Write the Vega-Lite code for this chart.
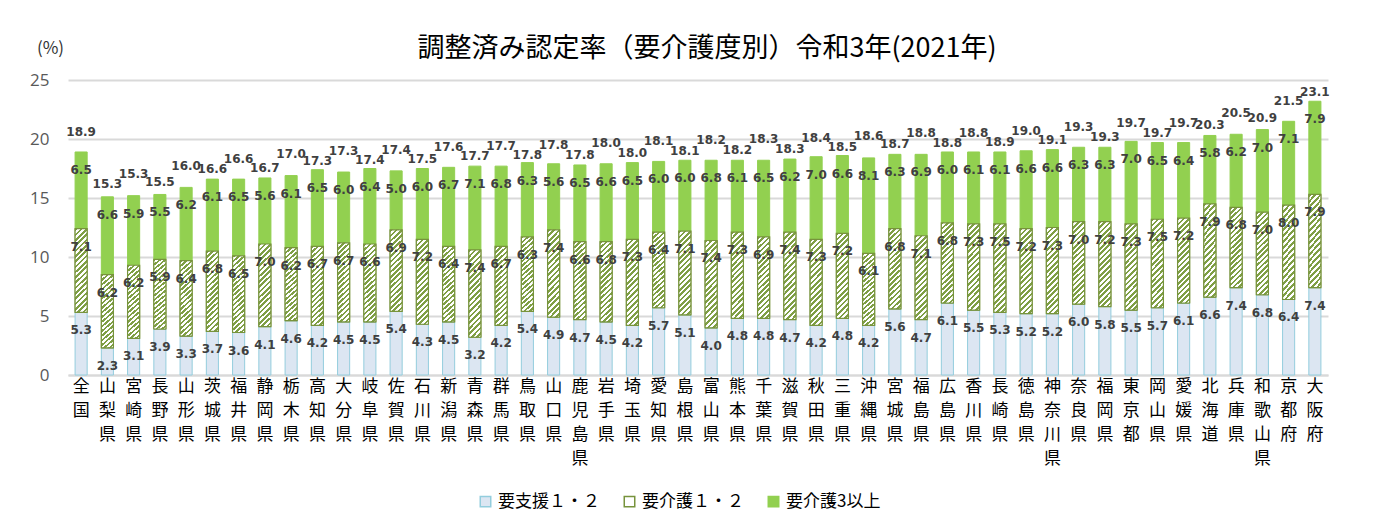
{
  "$schema": "https://vega.github.io/schema/vega-lite/v6.json",
  "autosize": {"type": "none"},
  "padding": {"left": 68, "top": 80, "right": 58, "bottom": 152},
  "width": 1260,
  "height": 295,
  "background": "#ffffff",
  "title": {
    "text": "調整済み認定率（要介護度別）令和3年(2021年)",
    "anchor": "middle",
    "frame": "group",
    "fontSize": 27,
    "fontWeight": "normal",
    "font": "Noto Sans CJK JP",
    "color": "#000000",
    "offset": 16,
    "dx": 9,
    "dy": 40
  },
  "config": {
    "view": {"stroke": null},
    "font": "Noto Sans CJK JP"
  },
  "data": {
    "values": [
      {"pref": "全国", "要支援１・２": 5.3, "要介護１・２": 7.1, "要介護3以上": 6.5, "total": 18.9},
      {"pref": "山梨県", "要支援１・２": 2.3, "要介護１・２": 6.2, "要介護3以上": 6.6, "total": 15.3},
      {"pref": "宮崎県", "要支援１・２": 3.1, "要介護１・２": 6.2, "要介護3以上": 5.9, "total": 15.3},
      {"pref": "長野県", "要支援１・２": 3.9, "要介護１・２": 5.9, "要介護3以上": 5.5, "total": 15.5},
      {"pref": "山形県", "要支援１・２": 3.3, "要介護１・２": 6.4, "要介護3以上": 6.2, "total": 16.0},
      {"pref": "茨城県", "要支援１・２": 3.7, "要介護１・２": 6.8, "要介護3以上": 6.1, "total": 16.6},
      {"pref": "福井県", "要支援１・２": 3.6, "要介護１・２": 6.5, "要介護3以上": 6.5, "total": 16.6},
      {"pref": "静岡県", "要支援１・２": 4.1, "要介護１・２": 7.0, "要介護3以上": 5.6, "total": 16.7},
      {"pref": "栃木県", "要支援１・２": 4.6, "要介護１・２": 6.2, "要介護3以上": 6.1, "total": 17.0},
      {"pref": "高知県", "要支援１・２": 4.2, "要介護１・２": 6.7, "要介護3以上": 6.5, "total": 17.3},
      {"pref": "大分県", "要支援１・２": 4.5, "要介護１・２": 6.7, "要介護3以上": 6.0, "total": 17.3},
      {"pref": "岐阜県", "要支援１・２": 4.5, "要介護１・２": 6.6, "要介護3以上": 6.4, "total": 17.4},
      {"pref": "佐賀県", "要支援１・２": 5.4, "要介護１・２": 6.9, "要介護3以上": 5.0, "total": 17.4},
      {"pref": "石川県", "要支援１・２": 4.3, "要介護１・２": 7.2, "要介護3以上": 6.0, "total": 17.5},
      {"pref": "新潟県", "要支援１・２": 4.5, "要介護１・２": 6.4, "要介護3以上": 6.7, "total": 17.6},
      {"pref": "青森県", "要支援１・２": 3.2, "要介護１・２": 7.4, "要介護3以上": 7.1, "total": 17.7},
      {"pref": "群馬県", "要支援１・２": 4.2, "要介護１・２": 6.7, "要介護3以上": 6.8, "total": 17.7},
      {"pref": "鳥取県", "要支援１・２": 5.4, "要介護１・２": 6.3, "要介護3以上": 6.3, "total": 17.8},
      {"pref": "山口県", "要支援１・２": 4.9, "要介護１・２": 7.4, "要介護3以上": 5.6, "total": 17.8},
      {"pref": "鹿児島県", "要支援１・２": 4.7, "要介護１・２": 6.6, "要介護3以上": 6.5, "total": 17.8},
      {"pref": "岩手県", "要支援１・２": 4.5, "要介護１・２": 6.8, "要介護3以上": 6.6, "total": 18.0},
      {"pref": "埼玉県", "要支援１・２": 4.2, "要介護１・２": 7.3, "要介護3以上": 6.5, "total": 18.0},
      {"pref": "愛知県", "要支援１・２": 5.7, "要介護１・２": 6.4, "要介護3以上": 6.0, "total": 18.1},
      {"pref": "島根県", "要支援１・２": 5.1, "要介護１・２": 7.1, "要介護3以上": 6.0, "total": 18.1},
      {"pref": "富山県", "要支援１・２": 4.0, "要介護１・２": 7.4, "要介護3以上": 6.8, "total": 18.2},
      {"pref": "熊本県", "要支援１・２": 4.8, "要介護１・２": 7.3, "要介護3以上": 6.1, "total": 18.2},
      {"pref": "千葉県", "要支援１・２": 4.8, "要介護１・２": 6.9, "要介護3以上": 6.5, "total": 18.3},
      {"pref": "滋賀県", "要支援１・２": 4.7, "要介護１・２": 7.4, "要介護3以上": 6.2, "total": 18.3},
      {"pref": "秋田県", "要支援１・２": 4.2, "要介護１・２": 7.3, "要介護3以上": 7.0, "total": 18.4},
      {"pref": "三重県", "要支援１・２": 4.8, "要介護１・２": 7.2, "要介護3以上": 6.6, "total": 18.5},
      {"pref": "沖縄県", "要支援１・２": 4.2, "要介護１・２": 6.1, "要介護3以上": 8.1, "total": 18.6},
      {"pref": "宮城県", "要支援１・２": 5.6, "要介護１・２": 6.8, "要介護3以上": 6.3, "total": 18.7},
      {"pref": "福島県", "要支援１・２": 4.7, "要介護１・２": 7.1, "要介護3以上": 6.9, "total": 18.8},
      {"pref": "広島県", "要支援１・２": 6.1, "要介護１・２": 6.8, "要介護3以上": 6.0, "total": 18.8},
      {"pref": "香川県", "要支援１・２": 5.5, "要介護１・２": 7.3, "要介護3以上": 6.1, "total": 18.8},
      {"pref": "長崎県", "要支援１・２": 5.3, "要介護１・２": 7.5, "要介護3以上": 6.1, "total": 18.9},
      {"pref": "徳島県", "要支援１・２": 5.2, "要介護１・２": 7.2, "要介護3以上": 6.6, "total": 19.0},
      {"pref": "神奈川県", "要支援１・２": 5.2, "要介護１・２": 7.3, "要介護3以上": 6.6, "total": 19.1},
      {"pref": "奈良県", "要支援１・２": 6.0, "要介護１・２": 7.0, "要介護3以上": 6.3, "total": 19.3},
      {"pref": "福岡県", "要支援１・２": 5.8, "要介護１・２": 7.2, "要介護3以上": 6.3, "total": 19.3},
      {"pref": "東京都", "要支援１・２": 5.5, "要介護１・２": 7.3, "要介護3以上": 7.0, "total": 19.7},
      {"pref": "岡山県", "要支援１・２": 5.7, "要介護１・２": 7.5, "要介護3以上": 6.5, "total": 19.7},
      {"pref": "愛媛県", "要支援１・２": 6.1, "要介護１・２": 7.2, "要介護3以上": 6.4, "total": 19.7},
      {"pref": "北海道", "要支援１・２": 6.6, "要介護１・２": 7.9, "要介護3以上": 5.8, "total": 20.3},
      {"pref": "兵庫県", "要支援１・２": 7.4, "要介護１・２": 6.8, "要介護3以上": 6.2, "total": 20.5},
      {"pref": "和歌山県", "要支援１・２": 6.8, "要介護１・２": 7.0, "要介護3以上": 7.0, "total": 20.9},
      {"pref": "京都府", "要支援１・２": 6.4, "要介護１・２": 8.0, "要介護3以上": 7.1, "total": 21.5},
      {"pref": "大阪府", "要支援１・２": 7.4, "要介護１・２": 7.9, "要介護3以上": 7.9, "total": 23.1}
    ]
  },
  "transform": [
    {"window": [{"op": "row_number", "as": "idx"}]},
    {"fold": ["要支援１・２", "要介護１・２", "要介護3以上"], "as": ["key", "value"]},
    {"stack": "value", "groupby": ["pref"], "as": ["y0", "y1"]}
  ],
  "encoding": {
    "x": {
      "field": "pref",
      "type": "nominal",
      "sort": null,
      "scale": {"paddingInner": 0.54, "paddingOuter": 0.27},
      "axis": {
        "title": null,
        "labelAngle": 0,
        "labelExpr": "split(datum.label, '')",
        "labelFontSize": 17,
        "labelLineHeight": 24,
        "labelColor": "#000000",
        "labelBaseline": "top",
        "labelPadding": 3,
        "ticks": false,
        "domainColor": "#d9d9d9",
        "domainWidth": 2,
        "labelFont": "Noto Sans CJK JP"
      }
    }
  },
  "layer": [
    {
      "mark": {"type": "bar", "strokeWidth": 1},
      "encoding": {
        "y": {
          "field": "y0",
          "type": "quantitative",
          "scale": {"domain": [0, 25], "nice": false},
          "axis": {
            "values": [0, 5, 10, 15, 20, 25],
            "title": "(%)",
            "titleAngle": 0,
            "titleX": -18,
            "titleY": -32,
            "titleAlign": "center",
            "titleBaseline": "middle",
            "titleFontSize": 17,
            "titleFontWeight": "normal",
            "titleColor": "#333333",
            "labelFontSize": 17,
            "labelColor": "#595959",
            "labelPadding": 19,
            "labelFont": "Open Sans",
            "ticks": false,
            "domain": false,
            "gridColor": "#d9d9d9",
            "gridWidth": 2
          }
        },
        "y2": {"field": "y1"},
        "color": {
          "field": "key",
          "type": "nominal",
          "scale": {
            "domain": ["要支援１・２", "要介護１・２", "要介護3以上"],
            "range": ["#dce6f2", "#ffffff", "#92d050"]
          },
          "legend": {
            "title": null,
            "orient": "none",
            "legendX": 409,
            "legendY": 413,
            "direction": "horizontal",
            "symbolType": "square",
            "symbolSize": 110,
            "labelFontSize": 17,
            "labelColor": "#000000",
            "columnPadding": 21,
            "labelOffset": 4
          }
        },
        "stroke": {
          "field": "key",
          "type": "nominal",
          "scale": {
            "domain": ["要支援１・２", "要介護１・２", "要介護3以上"],
            "range": ["#93cddd", "#77933c", "#92d050"]
          },
          "legend": {
            "title": null,
            "orient": "none",
            "legendX": 409,
            "legendY": 413,
            "direction": "horizontal",
            "symbolType": "square",
            "symbolSize": 110,
            "labelFontSize": 17,
            "labelColor": "#000000",
            "columnPadding": 21,
            "labelOffset": 4
          }
        }
      }
    },
    {
      "transform": [{"filter": "datum.key == '要介護１・２'"}],
      "mark": {
        "type": "bar",
        "stroke": "#77933c",
        "strokeWidth": 1.2,
        "fill": {
          "gradient": "linear",
          "x1": 0, "y1": 0, "x2": 0.16, "y2": 1.12,
          "stops": [
            {"offset": 0, "color": "#7f9f45"}, {"offset": 0.0278, "color": "#7f9f45"}, {"offset": 0.0278, "color": "#ffffff"}, {"offset": 0.0556, "color": "#ffffff"},
            {"offset": 0.0556, "color": "#7f9f45"}, {"offset": 0.0833, "color": "#7f9f45"}, {"offset": 0.0833, "color": "#ffffff"}, {"offset": 0.1111, "color": "#ffffff"},
            {"offset": 0.1111, "color": "#7f9f45"}, {"offset": 0.1389, "color": "#7f9f45"}, {"offset": 0.1389, "color": "#ffffff"}, {"offset": 0.1667, "color": "#ffffff"},
            {"offset": 0.1667, "color": "#7f9f45"}, {"offset": 0.1944, "color": "#7f9f45"}, {"offset": 0.1944, "color": "#ffffff"}, {"offset": 0.2222, "color": "#ffffff"},
            {"offset": 0.2222, "color": "#7f9f45"}, {"offset": 0.25, "color": "#7f9f45"}, {"offset": 0.25, "color": "#ffffff"}, {"offset": 0.2778, "color": "#ffffff"},
            {"offset": 0.2778, "color": "#7f9f45"}, {"offset": 0.3056, "color": "#7f9f45"}, {"offset": 0.3056, "color": "#ffffff"}, {"offset": 0.3333, "color": "#ffffff"},
            {"offset": 0.3333, "color": "#7f9f45"}, {"offset": 0.3611, "color": "#7f9f45"}, {"offset": 0.3611, "color": "#ffffff"}, {"offset": 0.3889, "color": "#ffffff"},
            {"offset": 0.3889, "color": "#7f9f45"}, {"offset": 0.4167, "color": "#7f9f45"}, {"offset": 0.4167, "color": "#ffffff"}, {"offset": 0.4444, "color": "#ffffff"},
            {"offset": 0.4444, "color": "#7f9f45"}, {"offset": 0.4722, "color": "#7f9f45"}, {"offset": 0.4722, "color": "#ffffff"}, {"offset": 0.5, "color": "#ffffff"},
            {"offset": 0.5, "color": "#7f9f45"}, {"offset": 0.5278, "color": "#7f9f45"}, {"offset": 0.5278, "color": "#ffffff"}, {"offset": 0.5556, "color": "#ffffff"},
            {"offset": 0.5556, "color": "#7f9f45"}, {"offset": 0.5833, "color": "#7f9f45"}, {"offset": 0.5833, "color": "#ffffff"}, {"offset": 0.6111, "color": "#ffffff"},
            {"offset": 0.6111, "color": "#7f9f45"}, {"offset": 0.6389, "color": "#7f9f45"}, {"offset": 0.6389, "color": "#ffffff"}, {"offset": 0.6667, "color": "#ffffff"},
            {"offset": 0.6667, "color": "#7f9f45"}, {"offset": 0.6944, "color": "#7f9f45"}, {"offset": 0.6944, "color": "#ffffff"}, {"offset": 0.7222, "color": "#ffffff"},
            {"offset": 0.7222, "color": "#7f9f45"}, {"offset": 0.75, "color": "#7f9f45"}, {"offset": 0.75, "color": "#ffffff"}, {"offset": 0.7778, "color": "#ffffff"},
            {"offset": 0.7778, "color": "#7f9f45"}, {"offset": 0.8056, "color": "#7f9f45"}, {"offset": 0.8056, "color": "#ffffff"}, {"offset": 0.8333, "color": "#ffffff"},
            {"offset": 0.8333, "color": "#7f9f45"}, {"offset": 0.8611, "color": "#7f9f45"}, {"offset": 0.8611, "color": "#ffffff"}, {"offset": 0.8889, "color": "#ffffff"},
            {"offset": 0.8889, "color": "#7f9f45"}, {"offset": 0.9167, "color": "#7f9f45"}, {"offset": 0.9167, "color": "#ffffff"}, {"offset": 0.9444, "color": "#ffffff"},
            {"offset": 0.9444, "color": "#7f9f45"}, {"offset": 0.9722, "color": "#7f9f45"}, {"offset": 0.9722, "color": "#ffffff"}, {"offset": 1, "color": "#ffffff"}
          ]
        }
      },
      "encoding": {
        "y": {"field": "y0", "type": "quantitative"},
        "y2": {"field": "y1"}
      }
    },
    {
      "mark": {"type": "text", "font": "DejaVu Sans", "fontSize": 12, "fontWeight": "bold", "color": "#404040", "baseline": "middle", "dy": 18},
      "encoding": {
        "y": {"field": "y1", "type": "quantitative"},
        "text": {"field": "value", "type": "quantitative", "format": ".1f"}
      }
    },
    {
      "transform": [{"filter": "datum.key == '要介護3以上' && datum.idx % 2 == 1"}],
      "mark": {"type": "text", "font": "DejaVu Sans", "fontSize": 12, "fontWeight": "bold", "color": "#404040", "baseline": "middle", "dy": -20},
      "encoding": {
        "y": {"field": "total", "type": "quantitative"},
        "text": {"field": "total", "type": "quantitative", "format": ".1f"}
      }
    },
    {
      "transform": [{"filter": "datum.key == '要介護3以上' && datum.idx % 2 == 0"}],
      "mark": {"type": "text", "font": "DejaVu Sans", "fontSize": 12, "fontWeight": "bold", "color": "#404040", "baseline": "middle", "dy": -10},
      "encoding": {
        "y": {"field": "total", "type": "quantitative"},
        "text": {"field": "total", "type": "quantitative", "format": ".1f"}
      }
    }
  ]
}
